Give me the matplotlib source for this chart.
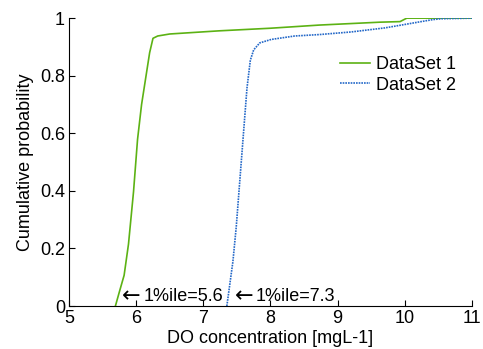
import numpy as np
import matplotlib
matplotlib.use("Agg")
import matplotlib.pyplot as plt

plt.rcParams['font.family'] = ['Liberation Sans', 'DejaVu Sans']

do1 = [5.69, 5.75, 5.82, 5.885, 5.96, 6.02, 6.08, 6.12, 6.20, 6.25, 6.32, 6.5,
       7.24, 8.0, 8.73, 9.63, 9.93, 10.03, 11.0]
cdf1 = [0.0, 0.05, 0.107, 0.215, 0.397, 0.579, 0.70, 0.76, 0.88, 0.93, 0.938, 0.945,
        0.956, 0.965, 0.976, 0.986, 0.988, 1.0, 1.0]

do2 = [7.35, 7.44, 7.49, 7.55, 7.61, 7.65, 7.70, 7.75, 7.84, 8.01, 8.36, 8.73,
       9.2, 9.7, 10.0, 10.22, 10.42, 10.55, 11.0]
cdf2 = [0.0, 0.154, 0.275, 0.456, 0.637, 0.757, 0.854, 0.89, 0.914, 0.926, 0.938, 0.943,
        0.952, 0.966, 0.978, 0.987, 0.995, 0.998, 1.0]

labels = ['DataSet 1', 'DataSet 2']
pct1 = [5.6, 7.3]
text_x = [5.72, 7.39]

fig = plt.figure(figsize=(4.83, 3.49), dpi=100)
ax = fig.add_axes([0.143, 0.123, 0.834, 0.825])

ax.plot(do1, cdf1, color='#5cb214', lw=1.2, label=labels[0])
ax.plot(do2, cdf2, color='#2468c8', lw=1.2, ls=(0, (1, 0.6)), label=labels[1])

for tx, p in zip(text_x, pct1):
    # thin long arrow (matlab's \leftarrow), then the label
    ax.annotate(r'$\leftarrow$', (tx, 0), xytext=(0, 0.5), textcoords='offset points',
                fontsize=16, va='bottom', ha='left')
    ax.annotate('1%ile=' + str(p), (tx, 0), xytext=(19, 1), textcoords='offset points',
                fontsize=13, va='bottom', ha='left')

ax.set_xlim(5, 11)
ax.set_ylim(0, 1)
ax.set_xticks(range(5, 12))
ax.set_yticks([0, 0.2, 0.4, 0.6, 0.8, 1])
ax.set_yticklabels(['0', '0.2', '0.4', '0.6', '0.8', '1'])
ax.tick_params(direction='in', labelsize=13, length=4, pad=3)
ax.spines['top'].set_visible(False)
ax.spines['right'].set_visible(False)
ax.set_xlabel('DO concentration [mgL-1]', fontsize=13, labelpad=2)
ax.set_ylabel('Cumulative probability', fontsize=13, labelpad=4)

ax.legend(loc='upper right', bbox_to_anchor=(1.0, 0.925), frameon=False, fontsize=13,
          handlelength=1.7, handletextpad=0.3, labelspacing=0.2)

fig.savefig('out.png', dpi=100)
